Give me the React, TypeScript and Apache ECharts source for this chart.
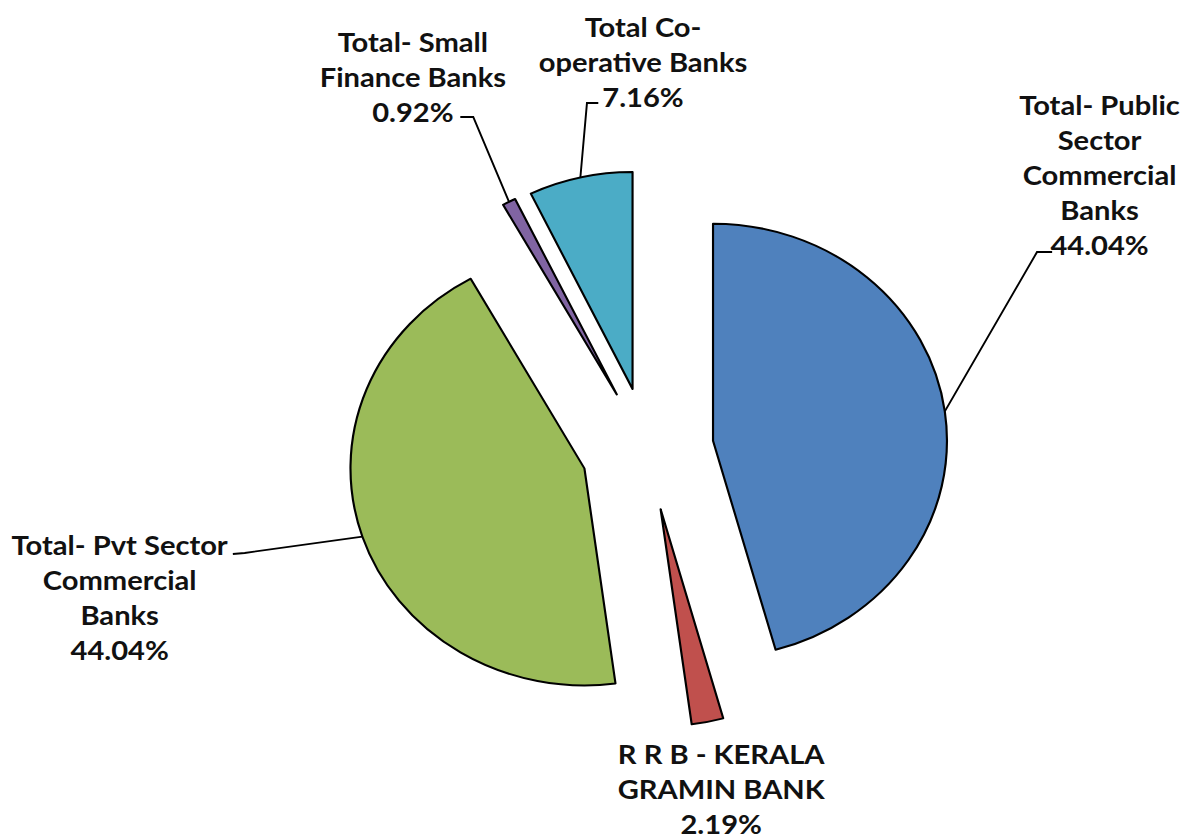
import React, { useEffect, useRef } from 'react';
import * as echarts from 'echarts';

// ---- data ----
const categories = [
  'Total- Public\nSector\nCommercial\nBanks',
  'R R B - KERALA\nGRAMIN BANK',
  'Total- Pvt Sector\nCommercial\nBanks',
  'Total- Small\nFinance Banks',
  'Total Co-\noperative Banks',
];
// slice sizes as drawn in the picture
const shares = [45.69, 2.19, 44.04, 0.92, 7.16];
// percentages as printed in the data labels
const shareLabels = ['44.04%', '2.19%', '44.04%', '0.92%', '7.16%'];
const colors = ['#4F81BD', '#C0504D', '#9BBB59', '#8064A2', '#4BACC6'];

// ---- layout ----
const SX = 1.078; // horizontal stretch of the picture
const W = 1190 / SX;
const H = 838;
const CENTER = [600.5, 449];
const RADIUS = 217;
const OFFSET = 61.5;

const labelPos: number[][] = [
  [1020, 174],
  [669, 788],
  [111, 597],
  [383, 76],
  [596.5, 61],
];
const leaderTail: (number[][] | null)[] = [
  [[962, 252], [976, 252]],
  null,
  [[227, 553], [216, 554]],
  [[439, 117], [427, 117]],
  [[544.5, 103], [555, 103]],
];

export default function App() {
  const ref = useRef<HTMLDivElement>(null);
  useEffect(() => {
    if (!ref.current) return;
    const chart = echarts.init(ref.current, undefined, { renderer: 'svg' });
    chart.setOption({
      animation: false,
      backgroundColor: '#ffffff',
      series: [
        {
          type: 'pie',
          center: CENTER,
          radius: RADIUS,
          startAngle: 90,
          clockwise: true,
          selectedMode: 'multiple',
          selectedOffset: OFFSET,
          avoidLabelOverlap: false,
          emphasis: { scale: false },
          itemStyle: { borderColor: '#000000', borderWidth: 2 },
          select: { itemStyle: { borderColor: '#000000', borderWidth: 2 } },
          label: { show: false },
          labelLine: { show: false },
          data: categories.map((name, i) => ({
            name,
            value: shares[i],
            selected: true,
            itemStyle: { color: colors[i] },
          })),
        },
      ],
    });

    // leader lines from the middle of each slice's arc
    const anchors: number[][] = [];
    try {
      const data = (chart as any).getModel().getSeriesByIndex(0).getData();
      for (let i = 0; i < shares.length; i++) {
        const l = data.getItemLayout(i);
        const mid = (l.startAngle + l.endAngle) / 2;
        anchors.push([l.cx + (l.r + OFFSET) * Math.cos(mid), l.cy + (l.r + OFFSET) * Math.sin(mid)]);
      }
    } catch (e) {
      const total = shares.reduce((a, b) => a + b, 0);
      let acc = 0;
      for (let i = 0; i < shares.length; i++) {
        const mid = -Math.PI / 2 + ((acc + shares[i] / 2) / total) * Math.PI * 2;
        acc += shares[i];
        anchors.push([
          CENTER[0] + (RADIUS + OFFSET) * Math.cos(mid),
          CENTER[1] + (RADIUS + OFFSET) * Math.sin(mid),
        ]);
      }
    }
    const graphic: any[] = [];
    leaderTail.forEach((tail, i) => {
      if (!tail) return;
      graphic.push({
        type: 'polyline',
        shape: { points: [anchors[i], ...tail] },
        style: { stroke: '#000000', lineWidth: 1.8, fill: 'none' },
        silent: true,
        z: 10,
      });
    });
    categories.forEach((name, i) => {
      graphic.push({
        type: 'text',
        x: labelPos[i][0],
        y: labelPos[i][1],
        silent: true,
        z: 11,
        style: {
          text: name + '\n' + shareLabels[i],
          fontFamily: 'Lato',
          fontWeight: 'bold',
          fontSize: 27,
          lineHeight: 35,
          fill: '#111111',
          align: 'center',
          verticalAlign: 'middle',
        },
      });
    });
    chart.setOption({ graphic });

    return () => chart.dispose();
  }, []);

  return (
    <div
      ref={ref}
      style={{
        position: 'absolute',
        left: 0,
        top: 0,
        width: W,
        height: H,
        transform: `scaleX(${SX})`,
        transformOrigin: '0 0',
      }}
    />
  );
}
